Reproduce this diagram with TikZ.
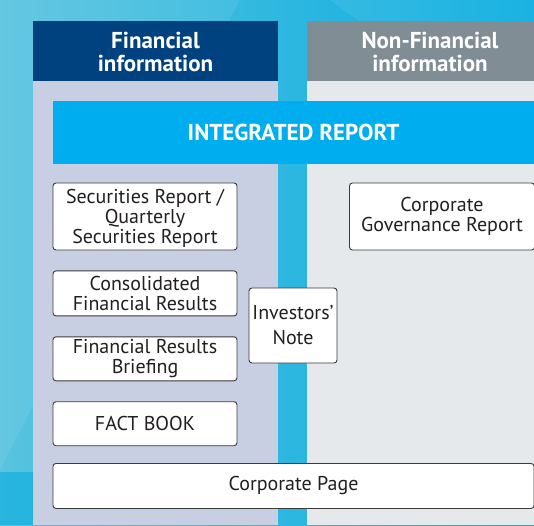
\documentclass[tikz,border=0pt]{standalone}
\usepackage{fontspec}
\setmainfont{PT Sans}
\usetikzlibrary{
        backgrounds,
        positioning,
        shapes
    }
\definecolor{skyleft}{HTML}{58C3DF}
\definecolor{skyright}{HTML}{08ADE0}
\definecolor{finblue}{HTML}{00427F}
\definecolor{fintint}{HTML}{C9CFE3}
\definecolor{nfgrey}{HTML}{818D95}
\definecolor{nftint}{HTML}{E6E9EC}
\definecolor{irblue}{HTML}{00AEEF}
\definecolor{boxline}{HTML}{3A3A3A}
\definecolor{ink}{HTML}{231F20}
\tikzset{
  docbox/.style={draw=boxline,line width=0.9pt,fill=white,rounded corners=3pt,
    align=center,inner sep=0pt,text=ink,font=\fontsize{20}{20}\selectfont},
  headtext/.style={text=white,align=center,font=\bfseries\fontsize{23}{23}\selectfont}
}

\begin{document}
\begin{tikzpicture}[x=1pt,y=-1pt,node distance=20pt]
        \useasboundingbox (0,0) rectangle (534,525);
        \clip (0,0) rectangle (534,525);
        % background
        \shade[left color=skyleft,right color=skyright] (0,0) rectangle (534,525);
        \fill[white,opacity=0.08] (0,0) -- (240,0) -- (0,470) -- cycle;
        \fill[white,opacity=0.07] (330,0) -- (534,0) -- (534,150) -- cycle;
        \fill[skyright,opacity=0.6] (0,472) rectangle (60,525);
        % columns
        \fill[fintint] (33,21) rectangle (278,525);
        \fill[finblue] (33,21) rectangle (278,81);
        \fill[nftint] (307,21) rectangle (534,525);
        \fill[nfgrey] (307,21) rectangle (534,81);
        \node[headtext] (fin)    at (155.5,51.5) {Financial\\information};
        \node[headtext] (nonfin) at (430,51.5)   {Non-Financial\\information};

        \node[fill=irblue,minimum width=481pt,minimum height=63pt,inner sep=0pt,
              text=white,font=\bfseries\fontsize{23}{23}\selectfont]
              (ir) at (293.5,132.5) {INTEGRATED REPORT};

        \node[docbox,minimum width=184pt,minimum height=67pt] (sec) at (145,216.5)
              {\\[-2pt]Securities Report /\\Quarterly\\Securities Report};
        \node[docbox,minimum width=184pt,minimum height=45pt] (cons) [below=of sec]
              {Consolidated\\Financial Results};
        \node[docbox,minimum width=184pt,minimum height=44pt] (brief) [below=of cons]
              {Financial Results\\Briefing};
        \node[docbox,minimum width=184pt,minimum height=44pt] (fact) [below=of brief]
              {FACT BOOK};
        \node[docbox,minimum width=88pt,minimum height=75pt,
              font=\fontsize{20}{25}\selectfont] (inv) at (293,325.5)
              {Investors'\\Note};
        \node[docbox,minimum width=185pt,minimum height=67pt] (gov) at (442,216.5)
              {Corporate\\Governance Report};
        \node[docbox,minimum width=481pt,minimum height=45pt,anchor=north west]
              (web) at (fact.south west |- 0,463) {Corporate Page};
\end{tikzpicture}
\end{document}
